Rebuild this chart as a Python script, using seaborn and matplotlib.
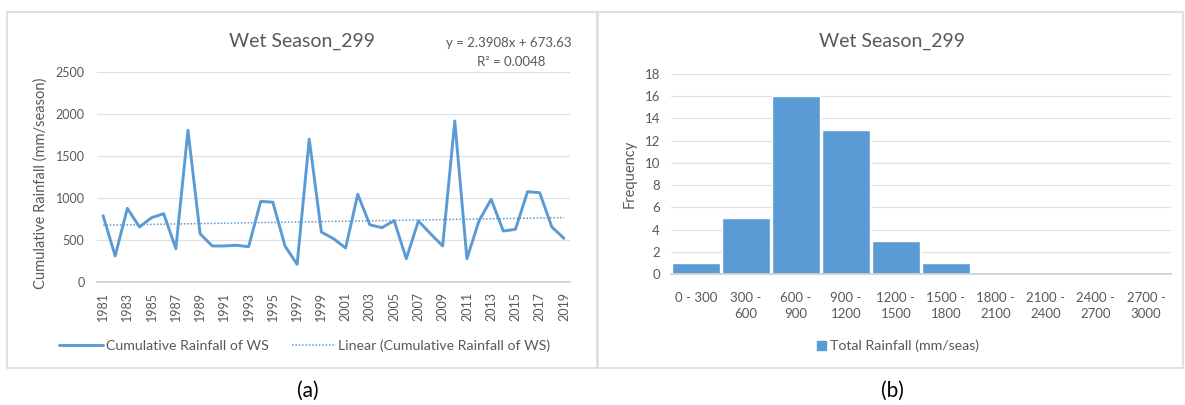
import numpy as np
import pandas as pd
import matplotlib
matplotlib.use("Agg")
import matplotlib.pyplot as plt
import seaborn as sns
from matplotlib.lines import Line2D
from matplotlib.patches import Rectangle

# ---------------- data ----------------
years = list(range(1981, 2020))
rainfall_ws = [790, 310, 877, 655, 766, 813, 397, 1806, 575, 429,
               429, 437, 420, 960, 950, 429, 210, 1700, 595, 516,
               405, 1044, 680, 647, 730, 278, 726, 575, 429, 1917,
               278, 730, 984, 607, 627, 1075, 1063, 655, 520]
trend_slope = 2.3908
trend_intercept = 673.63
r_squared = 0.0048

bin_labels = ["0 - 300", "300 -\n600", "600 -\n900", "900 -\n1200", "1200 -\n1500",
              "1500 -\n1800", "1800 -\n2100", "2100 -\n2400", "2400 -\n2700", "2700 -\n3000"]
frequency = [1, 5, 16, 13, 3, 1, 0, 0, 0, 0]

line_title = "Wet Season_299"
hist_title = "Wet Season_299"
line_series = "Cumulative Rainfall of WS"
trend_series = "Linear (Cumulative Rainfall of WS)"
hist_series = "Total Rainfall (mm/seas)"

# ---------------- style ----------------
sns.set_theme(style="white")
plt.rcParams['font.family'] = ['Lato', 'DejaVu Sans']
BLUE = '#5B9BD5'
TXT = '#595959'
GRID = '#e0e0e0'
W, H = 1185, 405

fig = plt.figure(figsize=(W / 100, H / 100), dpi=100)
fig.patch.set_facecolor('white')

def fx(px):
    return px / W

def fy(py):
    return 1 - py / H

# panel frames
fig.add_artist(Rectangle((fx(7), fy(368)), fx(597) - fx(7), fy(12) - fy(368),
                         transform=fig.transFigure, fill=False, ec='#dcdcdc', lw=1.2))
fig.add_artist(Rectangle((fx(598), fy(368)), fx(1183) - fx(598), fy(12) - fy(368),
                         transform=fig.transFigure, fill=False, ec='#dcdcdc', lw=1.2))

# ---------------- left: line chart ----------------
ax1 = fig.add_axes([fx(97), fy(282), fx(570) - fx(97), fy(72) - fy(282)])
idx = np.arange(1, len(years) + 1)
df = pd.DataFrame({'Year': years, 'Rain': rainfall_ws,
                   'Trend': trend_slope * idx + trend_intercept})
sns.lineplot(data=df, x='Year', y='Rain', ax=ax1, color=BLUE, lw=2.1,
             label=line_series, legend=False)
sns.lineplot(data=df, x='Year', y='Trend', ax=ax1, color=BLUE, lw=1.1,
             linestyle=(0, (1, 1.2)), label=trend_series, legend=False)
ax1.set_xlim(1980.5, 2019.5)
ax1.set_ylim(0, 2500)
ax1.set_yticks(range(0, 2501, 500))
ax1.set_xticks(years[::2])
ax1.set_xticklabels([str(y) for y in years[::2]], rotation=90)
ax1.yaxis.grid(True, color=GRID, lw=0.9)
ax1.set_axisbelow(True)
for s in ['top', 'right', 'left']:
    ax1.spines[s].set_visible(False)
ax1.spines['bottom'].set_color('#d0d0d0')
ax1.tick_params(axis='both', length=0, labelsize=9, labelcolor=TXT)
ax1.tick_params(axis='x', pad=7)
ax1.tick_params(axis='y', pad=9)
ax1.set_xlabel('')
ax1.set_ylabel('Cumulative Rainfall (mm/season)', color=TXT, fontsize=10.5)
ax1.yaxis.set_label_coords(-0.105, 0.47)

fig.text(fx(302), fy(41), line_title, ha='center', va='center', fontsize=14, color=TXT)
fig.text(fx(572), fy(43), f"y = {trend_slope}x + {trend_intercept}", ha='right', va='center',
         fontsize=9.5, color=TXT)
fig.text(fx(511), fy(62), f"R² = {r_squared}", ha='center', va='center', fontsize=9.5, color=TXT)

h1 = [Line2D([], [], color=BLUE, lw=2.1),
      Line2D([], [], color=BLUE, lw=1.1, linestyle=(0, (1, 1.2)))]
fig.legend(h1, [line_series, trend_series], loc='center', ncol=2, frameon=False,
           bbox_to_anchor=(fx(305), fy(346)), fontsize=10.2, labelcolor=TXT,
           handlelength=3.1, columnspacing=1.6, handletextpad=0.2)

# ---------------- right: histogram ----------------
ax2 = fig.add_axes([fx(671), fy(274), fx(1171) - fx(671), fy(74) - fy(274)])
df2 = pd.DataFrame({'Bin': bin_labels, 'Freq': frequency, 'Series': hist_series})
sns.barplot(data=df2, x='Bin', y='Freq', hue='Series', palette=[BLUE], dodge=False,
            width=0.95, saturation=1, ax=ax2, legend=False)
ax2.set_xlim(-0.5, len(bin_labels) - 0.5)
ax2.set_ylim(0, 18)
ax2.set_yticks(range(0, 19, 2))
ax2.yaxis.grid(True, color=GRID, lw=0.9)
ax2.set_axisbelow(True)
for s in ['top', 'right', 'left']:
    ax2.spines[s].set_visible(False)
ax2.spines['bottom'].set_color('#d0d0d0')
ax2.tick_params(axis='both', length=0, labelsize=9.5, labelcolor=TXT)
ax2.tick_params(axis='x', pad=13)
ax2.tick_params(axis='y', pad=8)
for lab in ax2.get_xticklabels():
    lab.set_va('top')
    lab.set_ha('center')
    lab.set_linespacing(1.35)
ax2.set_xlabel('')
ax2.set_ylabel('Frequency', color=TXT, fontsize=10.5)
ax2.yaxis.set_label_coords(-0.068, 0.5)

fig.text(fx(892), fy(41), hist_title, ha='center', va='center', fontsize=14, color=TXT)

h2 = [Rectangle((0, 0), 1, 1, color=BLUE)]
fig.legend(h2, [hist_series], loc='center', frameon=False,
           bbox_to_anchor=(fx(898), fy(346)), fontsize=10.2, labelcolor=TXT,
           handlelength=0.6, handleheight=0.6, handletextpad=0.3)

# ---------------- panel labels ----------------
fig.text(fx(308), fy(391), "(a)", ha='center', va='center', fontsize=15, color='black')
fig.text(fx(892), fy(391), "(b)", ha='center', va='center', fontsize=15, color='black')

fig.savefig("out.png", dpi=100, facecolor='white')
